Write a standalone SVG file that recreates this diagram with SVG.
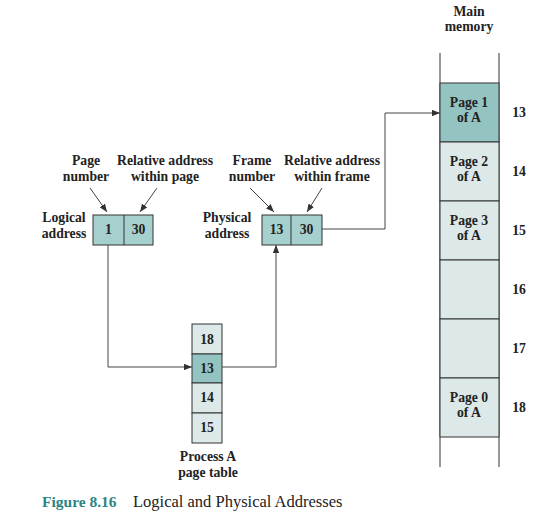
<svg xmlns="http://www.w3.org/2000/svg" width="556" height="529" viewBox="0 0 556 529">
<defs>
<style>
text{font-family:"Liberation Serif","Times New Roman",serif;font-weight:bold;font-size:13.7px;fill:#222;text-anchor:middle}
.cap{font-size:15.5px;text-anchor:start}
.line{fill:none;stroke:#444;stroke-width:1}
.box{stroke:#333;stroke-width:1}
.mid{fill:#a6d0ce}
.dark{fill:#94c4c2}
.light{fill:#dce9e8}
</style>
<marker id="ah" viewBox="0 0 10 8" refX="10" refY="4" markerWidth="8" markerHeight="6.4" markerUnits="userSpaceOnUse" orient="auto">
<path d="M0,0 L10,4 L0,8 Z" fill="#333"/>
</marker>
</defs>
<rect width="556" height="529" fill="#fff"/>

<g id="labels">
<text x="86" y="165">Page</text>
<text x="86" y="181">number</text>
<text x="165" y="165">Relative address</text>
<text x="165" y="181">within page</text>
<text x="252" y="165">Frame</text>
<text x="252" y="181">number</text>
<text x="332" y="165">Relative address</text>
<text x="332" y="181">within frame</text>
</g>

<g id="logical-address">
<text x="64" y="222">Logical</text>
<text x="64" y="238">address</text>
<rect class="box mid" x="93" y="215" width="60" height="30"/>
<line class="box" x1="124" y1="215" x2="124" y2="245"/>
<text x="108.5" y="234">1</text>
<text x="138.5" y="234">30</text>
</g>

<g id="physical-address">
<text x="227" y="222">Physical</text>
<text x="227" y="238">address</text>
<rect class="box mid" x="262" y="215" width="60" height="30"/>
<line class="box" x1="291" y1="215" x2="291" y2="245"/>
<text x="276.5" y="234">13</text>
<text x="306.5" y="234">30</text>
</g>

<g id="page-table">
<rect class="box light" x="192" y="324" width="30" height="30"/>
<rect class="box dark" x="192" y="354" width="30" height="29"/>
<rect class="box light" x="192" y="383" width="30" height="30"/>
<rect class="box light" x="192" y="413" width="30" height="30"/>
<text x="207" y="344">18</text>
<text x="207" y="373">13</text>
<text x="207" y="402">14</text>
<text x="207" y="432">15</text>
<text x="208" y="461">Process A</text>
<text x="208" y="477">page table</text>
</g>

<g id="main-memory">
<text x="469" y="16">Main</text>
<text x="469" y="31">memory</text>
<line class="box" x1="440" y1="53" x2="440" y2="467"/>
<line class="box" x1="499" y1="53" x2="499" y2="467"/>
<rect class="box dark" x="440" y="83" width="59" height="59"/>
<rect class="box light" x="440" y="142" width="59" height="59"/>
<rect class="box light" x="440" y="201" width="59" height="59"/>
<rect class="box light" x="440" y="260" width="59" height="59"/>
<rect class="box light" x="440" y="319" width="59" height="59"/>
<rect class="box light" x="440" y="378" width="59" height="59"/>
<text x="469" y="107">Page 1</text>
<text x="469" y="122">of A</text>
<text x="469" y="166">Page 2</text>
<text x="469" y="181">of A</text>
<text x="469" y="225">Page 3</text>
<text x="469" y="240">of A</text>
<text x="469" y="402">Page 0</text>
<text x="469" y="417">of A</text>
<text x="519" y="117">13</text>
<text x="519" y="176">14</text>
<text x="519" y="235">15</text>
<text x="519" y="294">16</text>
<text x="519" y="353">17</text>
<text x="519" y="412">18</text>
</g>

<g id="connectors">
<line class="line" x1="90" y1="188" x2="107" y2="212" marker-end="url(#ah)"/>
<line class="line" x1="157" y1="188" x2="140" y2="212" marker-end="url(#ah)"/>
<line class="line" x1="250" y1="188" x2="274" y2="212" marker-end="url(#ah)"/>
<line class="line" x1="322" y1="188" x2="307" y2="212" marker-end="url(#ah)"/>
<polyline class="line" points="108,245 108,367 192,367" marker-end="url(#ah)"/>
<polyline class="line" points="222,367 276,367 276,245" marker-end="url(#ah)"/>
<polyline class="line" points="322,229 385,229 385,113 440,113" marker-end="url(#ah)"/>
</g>

<g id="caption">
<text class="cap" x="42" y="507" style="fill:#2b8585">Figure 8.16</text>
<text class="cap" x="133" y="507" style="font-weight:normal;font-size:16.5px">Logical and Physical Addresses</text>
</g>
</svg>
